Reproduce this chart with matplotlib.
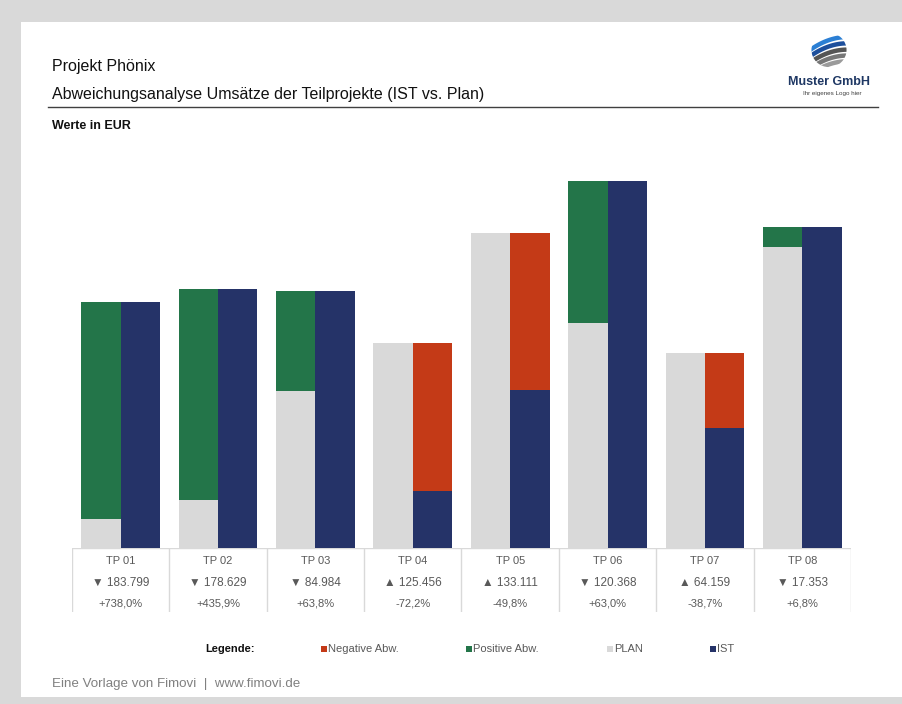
import numpy as np
import matplotlib.pyplot as plt
from matplotlib.patches import Rectangle, Circle

plt.rcParams['font.family'] = ['Liberation Sans', 'DejaVu Sans']

# Umsätze je Teilprojekt in EUR
projects = ["TP 01", "TP 02", "TP 03", "TP 04", "TP 05", "TP 06", "TP 07", "TP 08"]
plan = [24905, 40980, 133204, 173762, 267291, 191060, 165786, 255191]
ist = [208704, 219609, 218188, 48306, 134180, 311428, 101627, 272544]

C_PLAN = "#d9d9d9"
C_IST = "#253368"
C_POS = "#237549"
C_NEG = "#c43a17"
C_TEXT = "#595959"

W, H = 903, 704


def fx(x):
    return x / W


def fy(y):
    return 1 - y / H


def fmt_de(v):
    return f"{v:,}".replace(",", ".")


fig = plt.figure(figsize=(W / 100, H / 100), dpi=100)
fig.patch.set_facecolor("#d9d9d9")
fig.patches.append(Rectangle((fx(21), fy(697)), fx(903 - 21), (697 - 22) / H,
                             transform=fig.transFigure, facecolor="white",
                             edgecolor="none", zorder=-5))

# Kopfbereich
fig.text(fx(52), fy(67), "Projekt Phönix", fontsize=11.5, va="center", color="#111111")
fig.text(fx(52), fy(95), "Abweichungsanalyse Umsätze der Teilprojekte (IST vs. Plan)",
         fontsize=11.5, va="center", color="#111111")
fig.add_artist(plt.Line2D([fx(48), fx(878)], [fy(107), fy(107)],
                          transform=fig.transFigure, color="#404040", lw=1))
fig.text(fx(52), fy(126), "Werte in EUR", fontsize=9, fontweight="bold",
         va="center", color="#111111")

# Logo
lax = fig.add_axes([fx(805), fy(68), fx(48), 36 / H])
lax.set_xlim(-1.3, 1.3)
lax.set_ylim(-1, 1)
lax.axis("off")
clip = Circle((0, 0), 0.95, transform=lax.transData)
xs = np.linspace(-1.3, 1.3, 60)
swooshes = [(0.55, "#2b7fd4"), (0.2, "#1d4f9c"), (-0.15, "#555555"),
            (-0.48, "#777777"), (-0.8, "#9a9a9a")]
for c, col in swooshes:
    line, = lax.plot(xs, c + 0.35 * xs - 0.18 * xs ** 2, color=col, lw=3.2,
                     solid_capstyle="butt")
    line.set_clip_path(clip)
fig.text(fx(829), fy(82), "Muster GmbH", fontsize=9, fontweight="bold",
         ha="center", va="center", color="#1f3864")
fig.text(fx(832), fy(94), "Ihr eigenes Logo hier", fontsize=4.5,
         ha="center", va="center", color="#404040")

# Diagramm
ymax = 340000
ax = fig.add_axes([fx(72), fy(548), fx(851 - 72), ymax / 848.5 / H])
ax.set_xlim(-0.5, len(projects) - 0.5)
ax.set_ylim(0, ymax)
ax.axis("off")

bw = 0.405
for i, (p, s) in enumerate(zip(plan, ist)):
    ax.bar(i - bw, p, width=bw, align="edge", color=C_PLAN)
    ax.bar(i, s, width=bw, align="edge", color=C_IST)
    if s >= p:
        ax.bar(i - bw, s - p, bottom=p, width=bw, align="edge", color=C_POS)
    else:
        ax.bar(i, p - s, bottom=s, width=bw, align="edge", color=C_NEG)

# Tabelle unter den Balken
tax = fig.add_axes([fx(72), fy(612), fx(851 - 72), 64 / H])
tax.set_xlim(-0.5, len(projects) - 0.5)
tax.set_ylim(0, 1)
tax.axis("off")
tax.axhline(1, color="#d9d9d9", lw=1)
for b in np.arange(len(projects) + 1) - 0.5:
    tax.axvline(b, color="#d9d9d9", lw=1)
for i, (name, p, s) in enumerate(zip(projects, plan, ist)):
    diff = s - p
    arrow = "▼" if diff >= 0 else "▲"
    pct = f"{diff / p * 100:+.1f}%".replace(".", ",")
    tax.text(i, 0.80, name, ha="center", va="center", fontsize=8, color=C_TEXT)
    tax.text(i, 0.46, f"{arrow} {fmt_de(abs(diff))}", ha="center", va="center",
             fontsize=8.5, color=C_TEXT)
    tax.text(i, 0.14, pct, ha="center", va="center", fontsize=8, color=C_TEXT)

# Legende
fig.text(fx(205), fy(649), "Legende:", fontsize=8, fontweight="bold",
         va="center", color="#111111")
legend_items = [("Negative Abw.", C_NEG, 321), ("Positive Abw.", C_POS, 466),
                ("PLAN", C_PLAN, 607), ("IST", C_IST, 710)]
for label, col, lx in legend_items:
    fig.patches.append(Rectangle((fx(lx), fy(652)), fx(6), 6 / H,
                                 transform=fig.transFigure, facecolor=col,
                                 edgecolor="none"))
    fig.text(fx(lx + 7.5), fy(649), label, fontsize=8, va="center", color=C_TEXT)

# Fußzeile
fig.text(fx(52), fy(684), "Eine Vorlage von Fimovi  |  www.fimovi.de",
         fontsize=9.6, va="center", color="#808080")

fig.savefig("out.png", dpi=100)
